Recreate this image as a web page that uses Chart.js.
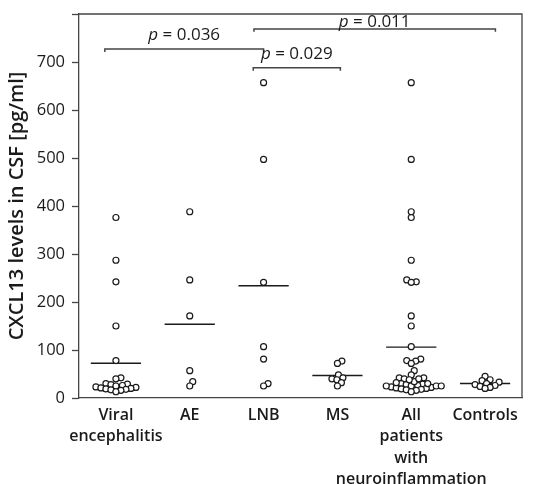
<!DOCTYPE html>
<html>
<head>
<meta charset="utf-8">
<script src="https://cdn.jsdelivr.net/npm/chart.js@4.4.1/dist/chart.umd.min.js"></script>
<style>
  html, body { margin: 0; padding: 0; background: #fff; }
  #wrap { width: 538px; height: 484px; position: relative; }
</style>
</head>
<body>
<div id="wrap"><canvas id="chart"></canvas></div>
<script>
/* ── Data ── */
const categories = [
  ['Viral', 'encephalitis'],
  ['AE'],
  ['LNB'],
  ['MS'],
  ['All', 'patients', 'with', 'neuroinflammation'],
  ['Controls'],
];

const viral    = [376, 287, 242, 150, 78, 42, 40, 30, 29, 28, 26, 25, 23, 22, 21, 20, 19, 18, 17, 16, 13];
const ae       = [388, 246, 171, 57, 34, 25];
const lnb      = [657, 497, 241, 107, 81, 30, 25];
const ms       = [77, 72, 48, 42, 40, 38, 32, 25];
const allPatients = [...viral, ...ae, ...lnb, ...ms];
const controls = [45, 38, 36, 33, 30, 28, 26, 24, 22, 20];

const groups = [viral, ae, lnb, ms, allPatients, controls];

const yMax  = 800;
const yStep = 100;

// significance brackets: from / to (category position), height, p-value
const bracketFrom  = [-0.15, 1.86, 1.87];
const bracketTo    = [2.0, 3.04, 5.14];
const bracketLevel = [727, 688, 769];
const pValues      = ['0.036', '0.029', '0.011'];

/* ── Styling ── */
const FONT = "'Open Sans', 'Noto Sans', sans-serif";
const INK = '#1a1a1a';
const AXIS = '#444';
const TICK_LIFT = 6;          // bracket end tick, in value units
const MEAN_HALF = 0.34;       // half width of mean bar, in category units
const LABEL_LIFT = [9, 9, 2]; // px between bracket and its text

const mean = a => a.reduce((s, v) => s + v, 0) / a.length;

/* ── Datasets ── */
const pointSets = groups.map((g, i) => ({
  type: 'scatter',
  data: g.map(v => ({ x: i, y: v })),
  pointRadius: 3,
  pointBorderWidth: 1.2,
  pointBackgroundColor: '#fff',
  pointBorderColor: INK,
  pointHoverRadius: 3,
  order: 1,
}));

const meanSets = groups.map((g, i) => ({
  type: 'line',
  data: [{ x: i - MEAN_HALF, y: mean(g) }, { x: i + MEAN_HALF, y: mean(g) }],
  borderColor: INK,
  borderWidth: 1.4,
  pointRadius: 0,
  order: 2,
}));

const bracketSets = bracketLevel.map((lv, i) => ({
  type: 'line',
  data: [
    { x: bracketFrom[i], y: lv - TICK_LIFT },
    { x: bracketFrom[i], y: lv },
    { x: bracketTo[i], y: lv },
    { x: bracketTo[i], y: lv - TICK_LIFT },
  ],
  borderColor: AXIS,
  borderWidth: 1.5,
  pointRadius: 0,
  order: 3,
}));

/* ── Plugins ── */
const frame = {
  id: 'frame',
  afterDraw(chart) {
    const { ctx, chartArea: a } = chart;
    ctx.save();
    ctx.strokeStyle = AXIS;
    ctx.lineWidth = 1.3;
    ctx.beginPath();
    ctx.moveTo(a.left, a.top);
    ctx.lineTo(a.right, a.top);
    ctx.lineTo(a.right, a.bottom);
    ctx.stroke();
    ctx.restore();
  }
};

const pLabels = {
  id: 'pLabels',
  afterDatasetsDraw(chart) {
    const { ctx, scales: { x, y } } = chart;
    ctx.save();
    ctx.fillStyle = INK;
    ctx.textBaseline = 'alphabetic';
    pValues.forEach((p, i) => {
      const cx = (x.getPixelForValue(bracketFrom[i]) + x.getPixelForValue(bracketTo[i])) / 2;
      const by = y.getPixelForValue(bracketLevel[i]) - LABEL_LIFT[i];
      const italic = 'italic 17px ' + FONT;
      const plain = '17px ' + FONT;
      ctx.font = italic;
      const w1 = ctx.measureText('p').width;
      ctx.font = plain;
      const rest = ' = ' + p;
      const w2 = ctx.measureText(rest).width;
      const x0 = cx - (w1 + w2) / 2;
      ctx.font = italic;
      ctx.textAlign = 'left';
      ctx.fillText('p', x0, by);
      ctx.font = plain;
      ctx.fillText(rest, x0 + w1, by);
    });
    ctx.restore();
  }
};

/* ── Chart ── */
const chart = new Chart(document.getElementById('chart'), {
  data: { datasets: [...bracketSets, ...meanSets, ...pointSets] },
  options: {
    responsive: true,
    maintainAspectRatio: false,
    animation: false,
    layout: { padding: { top: 14, right: 16, left: 0, bottom: 0 } },
    plugins: { legend: { display: false }, tooltip: { enabled: false } },
    scales: {
      x: {
        type: 'linear',
        min: -0.5,
        max: categories.length - 0.5,
        afterBuildTicks: ax => { ax.ticks = categories.map((_, i) => ({ value: i })); },
        afterFit: ax => { ax.height = 86; },
        ticks: {
          callback: v => categories[v],
          color: INK,
          font: { family: FONT, size: 16, weight: '600', lineHeight: 1.33 },
          padding: 7,
          maxRotation: 0,
          autoSkip: false,
        },
        grid: { display: false, drawTicks: false },
        border: { display: true, color: AXIS, width: 1.3 },
      },
      y: {
        min: 0,
        max: yMax,
        afterFit: ax => { ax.width = 79; ax.paddingTop = 0; },
        ticks: {
          stepSize: yStep,
          callback: v => (v >= yMax ? '' : v),
          color: INK,
          font: { family: FONT, size: 16.5 },
          padding: 7,
        },
        grid: { drawOnChartArea: false, drawTicks: true, tickLength: 7, color: AXIS, tickWidth: 1.3 },
        border: { display: true, color: AXIS, width: 1.3 },
        title: {
          display: true,
          text: 'CXCL13 levels in CSF [pg/ml]',
          color: INK,
          font: { family: FONT, size: 20, weight: '600' },
          padding: { top: 5, bottom: 0 },
        },
      },
    },
  },
  plugins: [frame, pLabels],
});

/* ── Beeswarm: spread each column so circles do not overlap ── */
function swarm(values, pxX, pxY, d) {
  const placed = [];
  const offs = new Array(values.length);
  const order = values.map((_, i) => i).sort((a, b) => values[a] - values[b]);
  for (const i of order) {
    const py = values[i] * pxY;
    let px = 0;
    for (let k = 0; k < 400; k++) {
      const c = (k % 2 ? 1 : -1) * Math.ceil(k / 2) * 0.5;
      if (placed.every(p => Math.hypot(p.x - c, p.y - py) >= d)) { px = c; break; }
    }
    placed.push({ x: px, y: py });
    offs[i] = px / pxX;
  }
  return offs;
}

const xs = chart.scales.x, ys = chart.scales.y;
const pxX = xs.getPixelForValue(1) - xs.getPixelForValue(0);
const pxY = ys.getPixelForValue(0) - ys.getPixelForValue(1);
groups.forEach((g, i) => {
  const offs = swarm(g, pxX, pxY, 5);
  chart.data.datasets[bracketSets.length + meanSets.length + i].data =
    g.map((v, j) => ({ x: i + offs[j], y: v }));
});
chart.update('none');
</script>
</body>
</html>
